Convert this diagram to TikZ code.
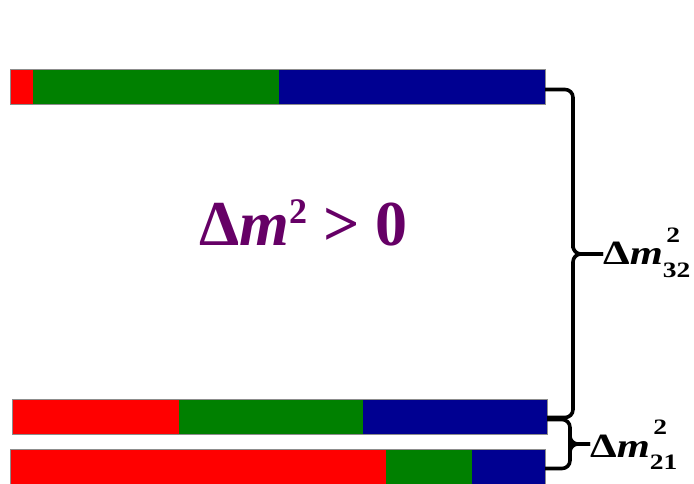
\documentclass[tikz,border=0pt]{standalone}
\usepackage{fontspec}
\usepackage{graphicx}
\setmainfont{Liberation Serif}
\usetikzlibrary{calc}
\definecolor{barred}{RGB}{255,0,0}
\definecolor{bargreen}{RGB}{0,128,0}
\definecolor{barblue}{RGB}{0,0,145}
\definecolor{mainpurple}{RGB}{102,0,102}
\newcommand{\dmlabel}[1]{\scalebox{1.25}[1]{Δ\textit{m}\makebox[0pt][l]{\hspace{0.08em}\raisebox{0.65em}{\fontsize{22}{22}\selectfont 2}}\raisebox{-0.38em}{\fontsize{22}{22}\selectfont #1}}}
\begin{document}
\begin{tikzpicture}[x=1pt,y=-1pt,
  barframe/.style={draw=black!45, line width=0.6pt, fill=none, inner sep=0pt, outer sep=0pt, minimum width=535pt, minimum height=35pt},
  bracestyle/.style={draw=black, line width=3.6pt, rounded corners=8pt, line cap=butt},
  lab/.style={anchor=base west, inner sep=0pt, font=\fontsize{34}{34}\selectfont\bfseries}]
\useasboundingbox (0,0) rectangle (694,484);
% top bar
\fill[barred] (10,69) rectangle (33,104);
\fill[bargreen] (33,69) rectangle (279,104);
\fill[barblue] (279,69) rectangle (545,104);
\node[barframe] (top) at (277.5,86.5) {};
% middle bar
\fill[barred] (12,399) rectangle (179,434);
\fill[bargreen] (179,399) rectangle (363,434);
\fill[barblue] (363,399) rectangle (547,434);
\node[barframe] (mid) at (279.5,416.5) {};
% bottom bar
\fill[barred] (10,449) rectangle (386,488);
\fill[bargreen] (386,449) rectangle (472,488);
\fill[barblue] (472,449) rectangle (545,488);
\node[barframe, minimum height=39pt] (bot) at (277.5,468.5) {};
% main text
\node[anchor=base west, inner sep=0pt, text=mainpurple, font=\fontsize{64}{64}\selectfont\bfseries] (main) at (199,245)
  {Δ\textit{m}\raisebox{0.34em}{\fontsize{36}{36}\selectfont 2} > 0};
% labels
\node[lab] (l32) at (603,265) {\dmlabel{32}};
\node[lab] (l21) at (590,457) {\dmlabel{21}};
% braces
\coordinate (tipA) at ($(l32.base west)+(0,-11)$);
\coordinate (tipB) at ($(l21.base west)+(0,-13)$);
\draw[bracestyle] ($(top.east)+(0,3)$) -| (573,240) |- (tipA);
\draw[bracestyle] ($(mid.east)+(0,1)$) -| (573,270) |- (tipA);
\draw[bracestyle] ($(mid.east)+(0,3)$) -| (570,436) |- (tipB);
\draw[bracestyle] (bot.east) -| (570,452) |- (tipB);
\end{tikzpicture}
\end{document}
